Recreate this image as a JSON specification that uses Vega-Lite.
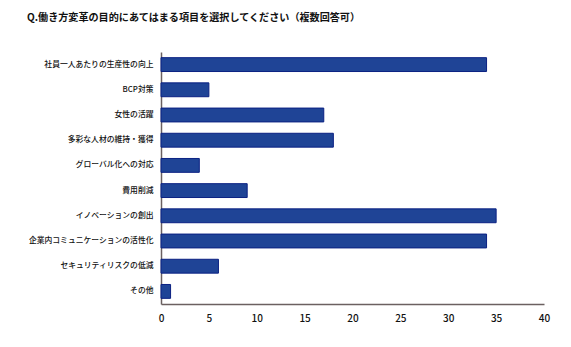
{
  "$schema": "https://vega.github.io/schema/vega-lite/v6.json",
  "autosize": {"type": "none"},
  "width": 383,
  "height": 252,
  "padding": {"left": 161, "top": 52, "right": 27, "bottom": 43},
  "background": "white",
  "config": {"view": {"stroke": null}, "font": "Noto Sans CJK JP"},
  "title": {
    "text": "Q.働き方変革の目的にあてはまる項目を選択してください（複数回答可）",
    "anchor": "start",
    "frame": "group",
    "dx": -134,
    "offset": 29,
    "fontSize": 10.1,
    "fontWeight": "bold",
    "color": "#111111",
    "font": "Noto Sans CJK JP"
  },
  "data": {
    "values": [
      {"item": "社員一人あたりの生産性の向上", "value": 34},
      {"item": "BCP対策", "value": 5},
      {"item": "女性の活躍", "value": 17},
      {"item": "多彩な人材の維持・獲得", "value": 18},
      {"item": "グローバル化への対応", "value": 4},
      {"item": "費用削減", "value": 9},
      {"item": "イノベーションの創出", "value": 35},
      {"item": "企業内コミュニケーションの活性化", "value": 34},
      {"item": "セキュリティリスクの低減", "value": 6},
      {"item": "その他", "value": 1}
    ]
  },
  "mark": {"type": "bar", "color": "#1f4496", "stroke": "#0b2183", "strokeWidth": 1},
  "encoding": {
    "y": {
      "field": "item",
      "type": "nominal",
      "sort": null,
      "scale": {"paddingInner": 0.45, "paddingOuter": 0.225},
      "axis": {
        "title": null,
        "ticks": false,
        "domainColor": "#6b6060",
        "domainWidth": 1.5,
        "labelFontSize": 7.8,
        "labelColor": "#111111",
        "labelFontWeight": 500,
        "labelPadding": 8,
        "labelLimit": 200
      }
    },
    "x": {
      "field": "value",
      "type": "quantitative",
      "scale": {"domain": [0, 40], "nice": false},
      "axis": {
        "title": null,
        "values": [0, 5, 10, 15, 20, 25, 30, 35, 40],
        "grid": false,
        "ticks": false,
        "domainColor": "#6b6060",
        "domainWidth": 1.5,
        "labelFontSize": 10,
        "labelColor": "#111111",
        "labelFontWeight": 500,
        "labelPadding": 9,
        "labelFlush": false
      }
    }
  }
}
